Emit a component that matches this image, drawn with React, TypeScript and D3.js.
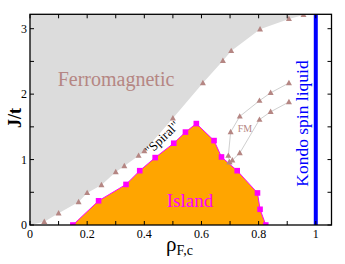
import React from "react";
import * as d3 from "d3";

const ferroX = [0, 0.05, 0.1, 0.17, 0.2, 0.25, 0.3, 0.33, 0.38, 0.4, 0.5, 0.605, 0.675, 0.704, 0.805, 0.906, 0.957, 1.0];
const ferroJ = [0, 0.05, 0.18, 0.35, 0.49, 0.61, 0.81, 0.9, 1.06, 1.13, 1.63, 2.17, 2.51, 2.66, 2.99, 3.15, 3.21, 3.22];
const ferroMarked = [false, true, true, true, true, true, true, true, true, true, true, true, true, true, true, true, true, false];

const islandX = [0.15, 0.24, 0.336, 0.384, 0.438, 0.503, 0.544, 0.582, 0.644, 0.67, 0.725, 0.796, 0.805, 0.825];
const islandJ = [0, 0.37, 0.62, 0.83, 1.03, 1.25, 1.42, 1.55, 1.29, 1.04, 0.83, 0.49, 0.24, 0];

const fmUpperX = [0.698, 0.694, 0.702, 0.734, 0.803, 0.842, 0.906];
const fmUpperJ = [0.96, 1.06, 1.42, 1.66, 1.9, 2.02, 2.17];
const fmLowerX = [0.698, 0.708, 0.734, 0.803, 0.842, 0.906];
const fmLowerJ = [0.96, 0.99, 1.1, 1.61, 1.73, 1.88];

const xLabelTicks = [0, 0.2, 0.4, 0.6, 0.8, 1];
const xTickLabels = ["0", "0.2", "0.4", "0.6", "0.8", "1"];
const xMinorTicks = [0, 0.1, 0.2, 0.3, 0.4, 0.5, 0.6, 0.7, 0.8, 0.9, 1.0];
const yLabelTicks = [0, 1, 2, 3];
const yTickLabels = ["0", "1", "2", "3"];
const yMinorTicks = [0, 0.5, 1, 1.5, 2, 2.5, 3];

const W = 345, H = 264;
const L = 30, R = 331.5, T = 14.3, B = 225;
const X_MAX = 1.055, Y_MAX = 3.22;

const fontStyle = { fontFamily: '"Liberation Serif", "Times New Roman", serif' };
const rosy = "#b58683";

function tri(cx: number, cy: number, s: number) {
  const h = s * 0.9;
  return `M${cx},${cy - h * 0.6}L${cx + s / 2},${cy + h * 0.4}L${cx - s / 2},${cy + h * 0.4}Z`;
}

export default function App() {
  const x = d3.scaleLinear().domain([0, X_MAX]).range([L, R]);
  const y = d3.scaleLinear().domain([0, Y_MAX]).range([B, T]);

  const ferroPts: [number, number][] = ferroX.map((v, i) => [v, ferroJ[i]]);
  const grayPoly: [number, number][] = [...ferroPts, [1.0, Y_MAX], [0, Y_MAX]];
  const polyGen = d3.line<[number, number]>().x(d => x(d[0])).y(d => y(d[1]));

  const islandPts: [number, number][] = islandX.map((v, i) => [v, islandJ[i]]);
  const fmU: [number, number][] = fmUpperX.map((v, i) => [v, fmUpperJ[i]]);
  const fmL: [number, number][] = fmLowerX.map((v, i) => [v, fmLowerJ[i]]);

  const tick = 4;

  return (
    <svg width={W} height={H} style={{ position: "absolute", left: 0, top: 0 }}>
      <rect x={0} y={0} width={W} height={H} fill="#fff" />
      <defs>
        <clipPath id="plot">
          <rect x={L} y={T} width={R - L} height={B - T} />
        </clipPath>
      </defs>
      <g clipPath="url(#plot)">
        <path d={polyGen(grayPoly) + "Z"} fill="#dcdcdc" stroke="none" />
        <path d={polyGen(islandPts) + "Z"} fill="#ffa500" stroke="none" />
        <path d={polyGen(islandPts) || ""} fill="none" stroke="#ff00ff" strokeWidth={1} />
        <path d={polyGen(fmU) || ""} fill="none" stroke="#cfcfcf" strokeWidth={1} />
        <path d={polyGen(fmL) || ""} fill="none" stroke="#cfcfcf" strokeWidth={1} />
        {ferroPts.map((p, i) =>
          ferroMarked[i] ? <path key={"f" + i} d={tri(x(p[0]), y(p[1]), 6)} fill={rosy} /> : null
        )}
        {fmU.map((p, i) => <path key={"u" + i} d={tri(x(p[0]), y(p[1]), 6)} fill={rosy} />)}
        {fmL.map((p, i) => <path key={"l" + i} d={tri(x(p[0]), y(p[1]), 6)} fill={rosy} />)}
        {islandPts.map((p, i) => (
          <rect key={"s" + i} x={x(p[0]) - 2.8} y={y(p[1]) - 2.8} width={5.6} height={5.6} fill="#ff00ff" />
        ))}
        <line x1={x(1)} x2={x(1)} y1={y(0)} y2={T} stroke="#0000ff" strokeWidth={4} />
      </g>
      <rect x={L} y={T} width={R - L} height={B - T} fill="none" stroke="#000" strokeWidth={1.3} />
      {xMinorTicks.map((v, i) => (
        <g key={"xt" + i}>
          <line x1={x(v)} x2={x(v)} y1={B} y2={B - tick} stroke="#000" strokeWidth={1} />
          <line x1={x(v)} x2={x(v)} y1={T} y2={T + tick} stroke="#000" strokeWidth={1} />
        </g>
      ))}
      {yMinorTicks.map((v, i) => (
        <g key={"yt" + i}>
          <line x1={L} x2={L + tick} y1={y(v)} y2={y(v)} stroke="#000" strokeWidth={1} />
          <line x1={R} x2={R - tick} y1={y(v)} y2={y(v)} stroke="#000" strokeWidth={1} />
        </g>
      ))}
      {xLabelTicks.map((v, i) => (
        <text key={"xl" + i} x={x(v)} y={238} textAnchor="middle" style={fontStyle} fontSize={12} fill="#000">
          {xTickLabels[i]}
        </text>
      ))}
      {yLabelTicks.map((v, i) => (
        <text key={"yl" + i} x={27} y={y(v) + 4} textAnchor="end" style={fontStyle} fontSize={12} fill="#000">
          {yTickLabels[i]}
        </text>
      ))}
      <text x={166} y={251} style={fontStyle} fontSize={21} fill="#000">
        ρ<tspan fontSize={14} dy={4}>F,c</tspan>
      </text>
      <text transform="translate(21,118) rotate(-90)" textAnchor="middle" style={fontStyle} fontSize={18} fontWeight="bold" fill="#000">
        J/t
      </text>
      <text x={116} y={86} textAnchor="middle" style={fontStyle} fontSize={20} fill={rosy}>
        Ferromagnetic
      </text>
      <text x={190} y={207} textAnchor="middle" style={fontStyle} fontSize={19} fill="#ff00ff">
        Island
      </text>
      <text x={245} y={131.5} textAnchor="middle" style={fontStyle} fontSize={10} fill={rosy}>
        FM
      </text>
      <text transform="translate(165,141) rotate(-44)" textAnchor="middle" style={fontStyle} fontSize={13} fill="#000">
        "Spiral"
      </text>
      <text transform="translate(308,123.5) rotate(-90)" textAnchor="middle" style={fontStyle} fontSize={17.5} fill="#0000ff">
        Kondo spin liquid
      </text>
    </svg>
  );
}
